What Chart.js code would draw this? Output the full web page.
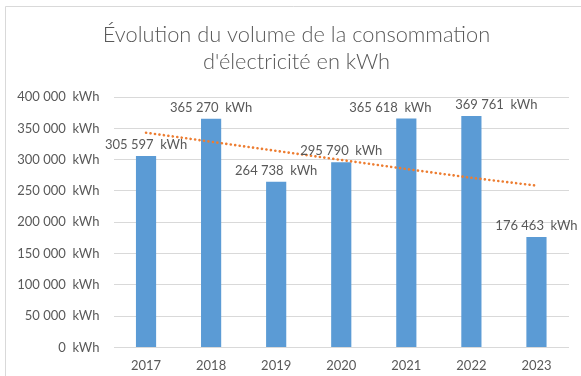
<!DOCTYPE html>
<html>
<head>
<meta charset="utf-8">
<script src="https://cdn.jsdelivr.net/npm/chart.js@4/dist/chart.umd.min.js"></script>
<style>
  html, body { margin: 0; padding: 0; background: #fff; }
  #wrap { width: 581px; height: 376px; }
</style>
</head>
<body>
<div id="wrap"><canvas id="chart" width="581" height="376"></canvas></div>
<script>
const years = ["2017", "2018", "2019", "2020", "2021", "2022", "2023"];
const consumption = [305597, 365270, 264738, 295790, 365618, 369761, 176463];
// linear trend
const trend = [343000, 328500, 314000, 299500, 285000, 271000, 258500];
const titleLines = ["Évolution du volume de la consommation", "d'électricité en kWh"];

const FONT = "Lato, 'Open Sans', sans-serif";
const GREY = "#595959";

// 2021 and 2022 labels are nudged apart so they don't collide
const labelShift = { 4: -16, 5: 25 };

const kwh = (v) =>
  String(Math.round(v)).replace(/\B(?=(\d{3})+(?!\d))/g, " ") + "  kWh";

// frame of the chart object (only top and left edges are visible) and the title,
// centred on the frame rather than the plot
const frame = {
  id: "frame",
  beforeDraw(chart) {
    const { ctx } = chart;
    ctx.save();
    ctx.fillStyle = "#fff";
    ctx.fillRect(0, 0, chart.width, chart.height);
    ctx.strokeStyle = "#d9d9d9";
    ctx.lineWidth = 1;
    ctx.beginPath();
    ctx.moveTo(5.5, chart.height);
    ctx.lineTo(5.5, 6.5);
    ctx.lineTo(chart.width, 6.5);
    ctx.stroke();

    ctx.font = `300 21.8px ${FONT}`;
    ctx.fillStyle = GREY;
    ctx.textAlign = "center";
    ctx.textBaseline = "middle";
    titleLines.forEach((line, i) => ctx.fillText(line, 296.5, 35 + i * 27));
    ctx.restore();
  },
};

// value labels above each bar
const barLabels = {
  id: "barLabels",
  afterDatasetsDraw(chart) {
    const { ctx } = chart;
    const meta = chart.getDatasetMeta(0);
    ctx.save();
    ctx.font = `13px ${FONT}`;
    ctx.fillStyle = GREY;
    ctx.textAlign = "center";
    ctx.textBaseline = "middle";
    meta.data.forEach((bar, i) => {
      ctx.fillText(kwh(consumption[i]), bar.x + (labelShift[i] || 0), bar.y - 11);
    });
    ctx.restore();
  },
};

new Chart(document.getElementById("chart").getContext("2d"), {
  type: "bar",
  data: {
    labels: years,
    datasets: [
      {
        type: "bar",
        data: consumption,
        backgroundColor: "#5b9bd5",
        barPercentage: 0.31,
        categoryPercentage: 1,
        order: 2,
      },
      {
        type: "line",
        data: trend,
        borderColor: "#ed7d31",
        borderWidth: 2.6,
        borderDash: [0.1, 4.4],
        borderCapStyle: "round",
        pointRadius: 0,
        fill: false,
        order: 1,
      },
    ],
  },
  options: {
    responsive: false,
    animation: false,
    layout: { padding: { top: 97, right: 12, bottom: 0, left: 0 } },
    plugins: {
      legend: { display: false },
      tooltip: { enabled: false },
      title: { display: false },
    },
    scales: {
      x: {
        grid: { display: false, drawTicks: false },
        border: { display: false },
        ticks: { color: GREY, font: { family: FONT, size: 13 }, padding: 11 },
        afterFit: (scale) => {
          scale.height = 28.5;
        },
      },
      y: {
        min: 0,
        max: 400000,
        grid: { color: "#d9d9d9", drawTicks: false },
        border: { display: false },
        ticks: {
          stepSize: 50000,
          color: GREY,
          font: { family: FONT, size: 13 },
          padding: 14,
          callback: (v) => kwh(v),
        },
        afterFit: (scale) => {
          scale.width = 113.5;
        },
      },
    },
  },
  plugins: [frame, barLabels],
});
</script>
</body>
</html>
